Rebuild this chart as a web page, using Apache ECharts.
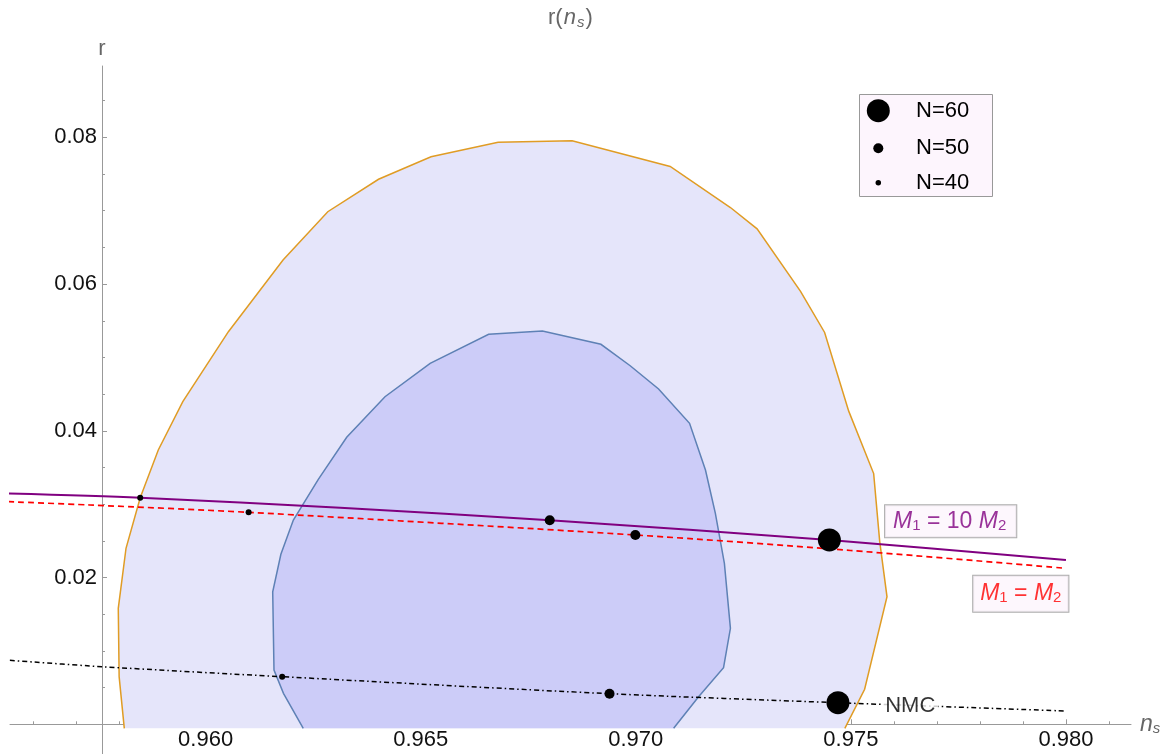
<!DOCTYPE html>
<html><head><meta charset="utf-8">
<script src="https://cdn.jsdelivr.net/npm/echarts@6/dist/echarts.min.js"></script>
<style>html,body{margin:0;padding:0;background:#fff}#c{width:1168px;height:754px}</style>
</head><body><div id="c"></div>
<script>
// ---- tick values ----
const xMajorTicks = [0.960, 0.965, 0.970, 0.975, 0.980];
const xMinorTicks = [0.956, 0.957, 0.958, 0.959, 0.961, 0.962, 0.963, 0.964, 0.966, 0.967, 0.968, 0.969,
                     0.971, 0.972, 0.973, 0.974, 0.976, 0.977, 0.978, 0.979, 0.981];
const yMajorTicks = [0.02, 0.04, 0.06, 0.08];
const yMinorTicks = [0.005, 0.01, 0.015, 0.025, 0.03, 0.035, 0.045, 0.05, 0.055, 0.065, 0.07, 0.075, 0.085];

// ---- confidence contours (n_s, r) ----
const outerContour = [
  [0.95811, -0.00055], [0.95799, 0.00649], [0.95797, 0.01581], [0.95815, 0.02399], [0.95848, 0.03088],
  [0.95890, 0.03738], [0.95947, 0.04397], [0.96053, 0.05351], [0.96180, 0.06328], [0.96284, 0.06986],
  [0.96402, 0.07428], [0.96524, 0.07736], [0.96680, 0.07932], [0.96852, 0.07954], [0.97080, 0.07603],
  [0.97220, 0.07043], [0.97282, 0.06752], [0.97383, 0.05900], [0.97439, 0.05340], [0.97495, 0.04268],
  [0.97553, 0.03417], [0.97567, 0.02493], [0.97584, 0.01738], [0.97532, 0.00477], [0.97486, -0.00055]
];
const innerContour = [
  [0.96227, -0.00055], [0.96181, 0.00422], [0.96159, 0.00740], [0.96156, 0.01807], [0.96175, 0.02317],
  [0.96204, 0.02784], [0.96262, 0.03339], [0.96328, 0.03911], [0.96417, 0.04465], [0.96522, 0.04920],
  [0.96658, 0.05315], [0.96783, 0.05360], [0.96919, 0.05179], [0.96987, 0.04887], [0.97053, 0.04570],
  [0.97125, 0.04102], [0.97162, 0.03466], [0.97185, 0.02876], [0.97206, 0.02194], [0.97220, 0.01308],
  [0.97204, 0.00771], [0.97146, 0.00376], [0.97088, -0.00055]
];

// ---- model curves ----
const lineM10 = [[0.95541, 0.03146], [0.95848, 0.03088], [0.96313, 0.02952], [0.96800, 0.02780], [0.97450, 0.02512], [0.98000, 0.02239]];
const lineM1  = [[0.95541, 0.03034], [0.95731, 0.02989], [0.96100, 0.02889], [0.96999, 0.02580], [0.97499, 0.02369], [0.98000, 0.02126]];
const lineNMC = [[0.95545, 0.00872], [0.95759, 0.00785], [0.96178, 0.00649], [0.96939, 0.00417], [0.97470, 0.00294], [0.98000, 0.00181]];

// ---- e-fold points ----
const dotsN60 = [[0.97450, 0.02512], [0.97470, 0.00294]];
const dotsN50 = [[0.96800, 0.02780], [0.96999, 0.02580], [0.96939, 0.00417]];
const dotsN40 = [[0.95848, 0.03088], [0.96100, 0.02889], [0.96178, 0.00649]];

// ---- legend entries ----
const legendNames = ['N=60', 'N=50', 'N=40'];
const legendDotSizes = [23, 10, 5.5];

// ---- annotation anchors ----
const labelM10Pos = [0.97732, 0.02767];
const labelM1Pos  = [0.97895, 0.01780];
const labelNMCPos = [0.97638, 0.00249];

const FONT = "'Liberation Sans', Arial, sans-serif";
const X_MIN = 0.955453, X_MAX = 0.981512;
const Y_MAX = 0.08972;
const chart = echarts.init(document.getElementById('c'), null, {renderer: 'canvas'});

function contour(name, pts, fill, stroke) {
  return {
    type: 'custom', name: name, silent: true, z: 1, clip: false,
    xAxisIndex: 0, yAxisIndex: 0,
    data: [[0.965, 0.03]],
    renderItem: function (params, api) {
      const p = pts.map(function (q) { return api.coord(q); });
      return {type: 'group', children: [
        {type: 'polygon', shape: {points: p}, style: {fill: fill, stroke: null}},
        {type: 'polyline', shape: {points: p}, style: {fill: null, stroke: stroke, lineWidth: 1.5}}
      ]};
    }
  };
}
function dots(name, data, size) {
  return {type: 'scatter', name: name, data: data, symbol: 'circle', symbolSize: size, z: 6,
          xAxisIndex: 0, yAxisIndex: 0, itemStyle: {color: '#000', opacity: 1}, silent: true};
}
function boxLabel(pos, text, color, rich, pad, bg, border) {
  return {type: 'scatter', data: [pos], symbolSize: 1, z: 7, silent: true, xAxisIndex: 0, yAxisIndex: 0,
    itemStyle: {color: 'rgba(0,0,0,0)'},
    label: {show: true, position: 'inside', formatter: text, color: color, fontFamily: FONT, fontSize: 22,
      backgroundColor: bg, borderColor: border, borderWidth: border ? 1 : 0, padding: pad, rich: rich}};
}
function mRich(color) {
  return {
    m: {fontStyle: 'italic', fontSize: 23, color: color, fontFamily: FONT},
    b: {fontSize: 15, color: color, fontFamily: FONT, padding: [9, 0, 0, 0]},
    t: {fontSize: 23, color: color, fontFamily: FONT}
  };
}
const axisGray = '#999';

const legendGraphics = [
  {type: 'rect', left: 859, top: 94, z: 10, silent: true,
   shape: {width: 133, height: 102}, style: {fill: '#fdf5fd', stroke: axisGray, lineWidth: 1}}
];
const legendY = [110.7, 148.3, 182.7];
legendNames.forEach(function (nm, i) {
  legendGraphics.push({type: 'circle', z: 11, silent: true,
    shape: {cx: 878.3, cy: legendY[i], r: legendDotSizes[i] / 2}, style: {fill: '#000'}});
  legendGraphics.push({type: 'text', z: 11, silent: true, x: 916, y: legendY[i],
    style: {text: nm, fill: '#000', font: '22px ' + FONT, textVerticalAlign: 'middle', verticalAlign: 'middle'}});
});

const option = {
  animation: false,
  backgroundColor: '#fff',
  title: {
    text: 'r({i|n}{s|s})', left: 548, top: 6, padding: 0,
    textStyle: {fontSize: 22, fontWeight: 'normal', color: '#666', fontFamily: FONT,
      rich: {i: {fontStyle: 'italic', fontSize: 22, color: '#666', fontFamily: FONT, padding: [0, 1, 0, 1]},
             s: {fontStyle: 'italic', fontSize: 15, color: '#666', fontFamily: FONT, padding: [9, 1, 0, 0]}}}
  },
  grid: [
    {left: 10, right: 37, top: 66, bottom: 29.7, containLabel: false, outerBoundsMode: 'none'},
    {left: 10, right: 37, top: 724.3, bottom: 0, containLabel: false, outerBoundsMode: 'none'}
  ],
  xAxis: [
    {type: 'value', gridIndex: 0, min: X_MIN, max: X_MAX, position: 'bottom',
     axisLine: {show: true, onZero: false, lineStyle: {color: axisGray, width: 1}},
     axisTick: {show: true, inside: true, length: 5, customValues: xMajorTicks, lineStyle: {color: axisGray}},
     axisLabel: {show: true, customValues: xMajorTicks, margin: 5, color: '#111', fontSize: 22, fontFamily: FONT,
                 hideOverlap: false, formatter: function (v) { return v.toFixed(3); }},
     splitLine: {show: false},
     name: '{i|n}{s|s}', nameLocation: 'end', nameGap: 9,
     nameTextStyle: {color: '#666', fontSize: 22, fontFamily: FONT, verticalAlign: 'middle',
       rich: {i: {fontStyle: 'italic', fontSize: 23, color: '#666', fontFamily: FONT},
              s: {fontStyle: 'italic', fontSize: 15, color: '#666', fontFamily: FONT, padding: [10, 0, 0, 0]}}}},
    {type: 'value', gridIndex: 0, min: X_MIN, max: X_MAX, position: 'bottom',
     axisLine: {show: false, onZero: false},
     axisTick: {show: true, inside: true, length: 3, customValues: xMinorTicks, lineStyle: {color: axisGray}},
     axisLabel: {show: false}, splitLine: {show: false}},
    {type: 'value', gridIndex: 1, min: X_MIN, max: X_MAX, show: false}
  ],
  yAxis: [
    {type: 'value', gridIndex: 0, min: 0, max: Y_MAX, position: 'left', offset: -92,
     axisLine: {show: true, onZero: false, lineStyle: {color: axisGray, width: 1}},
     axisTick: {show: true, inside: true, length: 5, customValues: yMajorTicks, lineStyle: {color: axisGray}},
     axisLabel: {show: true, customValues: yMajorTicks, margin: 5, color: '#111', fontSize: 22, fontFamily: FONT,
                 formatter: function (v) { return v.toFixed(2); }},
     splitLine: {show: false},
     name: 'r', nameLocation: 'end', nameGap: 6,
     nameTextStyle: {color: '#666', fontSize: 22, fontFamily: FONT, align: 'center'}},
    {type: 'value', gridIndex: 0, min: 0, max: Y_MAX, position: 'left', offset: -92,
     axisLine: {show: false, onZero: false},
     axisTick: {show: true, inside: true, length: 3, customValues: yMinorTicks, lineStyle: {color: axisGray}},
     axisLabel: {show: false}, splitLine: {show: false}},
    {type: 'value', gridIndex: 1, min: -1, max: 0, position: 'left', offset: -92,
     axisLine: {show: true, onZero: false, lineStyle: {color: axisGray, width: 1}},
     axisTick: {show: false}, axisLabel: {show: false}, splitLine: {show: false}}
  ],
  graphic: legendGraphics,
  series: [
    contour('outer', outerContour, '#e5e5fa', '#e09c24'),
    contour('inner', innerContour, '#ccccf8', '#5e81b5'),
    {type: 'line', name: 'M1=10M2', data: lineM10, showSymbol: false, smooth: 0.3, z: 3, silent: true,
     xAxisIndex: 0, yAxisIndex: 0, lineStyle: {color: '#800080', width: 2}},
    {type: 'line', name: 'M1=M2', data: lineM1, showSymbol: false, smooth: 0.3, z: 3, silent: true,
     xAxisIndex: 0, yAxisIndex: 0, lineStyle: {color: '#ff0000', width: 1.7, type: [6, 4]}},
    {type: 'line', name: 'NMC', data: lineNMC, showSymbol: false, smooth: 0.3, z: 3, silent: true,
     xAxisIndex: 0, yAxisIndex: 0, lineStyle: {color: '#000', width: 1.5, type: [5, 3, 1.5, 3]}},
    dots('N=60', dotsN60, 23),
    dots('N=50', dotsN50, 10),
    dots('N=40', dotsN40, 6),
    boxLabel(labelM10Pos, '{m|M}{b|1}{t| = 10 }{m|M}{b|2}', '#800080', mRich('#800080'), [4, 10, 4, 8], '#fdf5fd', '#999'),
    boxLabel(labelM1Pos, '{m|M}{b|1}{t| = }{m|M}{b|2}', '#ff0000', mRich('#ff0000'), [6, 7, 6, 7], '#fdf5fd', '#999'),
    boxLabel(labelNMCPos, 'NMC', '#000', {}, [0, 3, 0, 3], '#fff', null)
  ]
};
chart.setOption(option);
</script>
</body></html>
